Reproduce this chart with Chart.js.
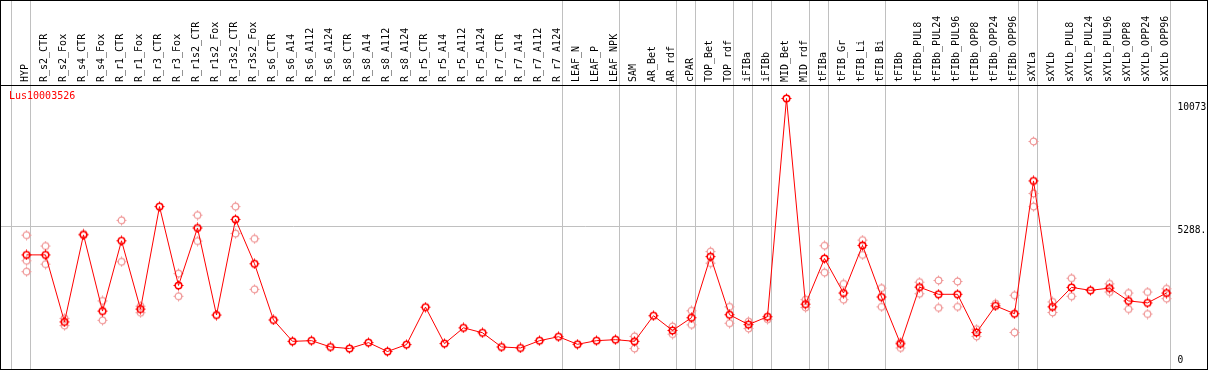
<!DOCTYPE html>
<html>
<head>
<meta charset="utf-8">
<script src="https://cdn.jsdelivr.net/npm/chart.js@4.4.0/dist/chart.umd.min.js"></script>
<style>
html,body{margin:0;padding:0;background:#fff;}
#wrap{width:1209px;height:370px;}
</style>
</head>
<body>
<div id="wrap"><canvas id="c" width="1209" height="370"></canvas></div>
<script>
const categories = ["HYP","R_s2_CTR","R_s2_Fox","R_s4_CTR","R_s4_Fox","R_r1_CTR","R_r1_Fox","R_r3_CTR","R_r3_Fox","R_r1s2_CTR","R_r1s2_Fox","R_r3s2_CTR","R_r3s2_Fox","R_s6_CTR","R_s6_A14","R_s6_A112","R_s6_A124","R_s8_CTR","R_s8_A14","R_s8_A112","R_s8_A124","R_r5_CTR","R_r5_A14","R_r5_A112","R_r5_A124","R_r7_CTR","R_r7_A14","R_r7_A112","R_r7_A124","LEAF_N","LEAF_P","LEAF_NPK","SAM","AR_Bet","AR_rdf","cPAR","TOP_Bet","TOP_rdf","iFIBa","iFIBb","MID_Bet","MID_rdf","tFIBa","tFIB_Gr","tFIB_Li","tFIB_Bi","tFIBb","tFIBb_PUL8","tFIBb_PUL24","tFIBb_PUL96","tFIBb_OPP8","tFIBb_OPP24","tFIBb_OPP96","sXYLa","sXYLb","sXYLb_PUL8","sXYLb_PUL24","sXYLb_PUL96","sXYLb_OPP8","sXYLb_OPP24","sXYLb_OPP96"];

const meanValues = [4218,4218,1709,4967,2114,4746,2188,6026,3074,5226,
1967,5547,3886,1782,982,1007,771,712,934,601,
860,2262,897,1487,1303,771,734,1007,1155,871,
1007,1044,982,1941,1388,1867,4155,1978,1609,1904,
10073,2373,4081,2790,4573,2642,890,3011,2742,2742,
1314,2310,2015,6986,2273,3000,2890,2975,2495,2421,2790];

const rep1 = [4956,4550,1842,null,2495,5510,2299,null,3517,5706,null,6026,4820,
null,null,null,null,null,null,null,null,null,null,null,null,null,null,null,null,null,null,null,
1166,null,1535,2126,4340,2273,1720,1805,null,2543,4561,3133,4772,2975,950,3196,3259,3222,1436,2395,2706,8462,2458,3344,null,3133,2790,2827,2949];

const rep2 = [3591,3871,1572,null,1768,3960,2052,null,2668,4735,null,5015,2927,
null,null,null,null,null,null,null,null,null,null,null,null,null,null,null,null,null,null,null,
712,null,1251,1598,3908,1660,1461,null,null,2248,3554,2543,4218,2273,734,2764,2236,2273,1166,null,1314,6026,2063,2668,null,2827,2188,2004,2580];

const rep3 = [3997,null,null,5000,null,null,null,null,null,null,
null,null,null,null,null,null,null,null,null,null,
null,null,null,null,null,null,null,null,null,null,
null,null,null,null,null,null,null,null,null,null,
null,null,null,null,null,null,null,null,null,null,
null,null,null,6517,null,null,null,null,null,null,null];

const geneName = "Lus10003526";
const yTickValues = [0, 5288.5, 10073];
const yTickLabels = ["0", "5288.", "10073"];
const gridValues = [5288.5];
const yAxisMin = 96;
const yAxisMax = 10577;
const separatorsAfter = [-1,0,28,31,34,35,37,38,39,41,42,45,52,53,60];

const MONO = '"DejaVu Sans Mono", "Liberation Mono", monospace';

function makeMarker(color, lw) {
  const c = document.createElement('canvas');
  c.width = 11; c.height = 11;
  const g = c.getContext('2d');
  g.strokeStyle = color;
  g.lineWidth = lw;
  g.beginPath(); g.arc(5.5, 5.5, 3.3, 0, Math.PI * 2); g.stroke();
  g.lineWidth = 1;
  g.beginPath();
  g.moveTo(5.5, 0.5); g.lineTo(5.5, 2.2);
  g.moveTo(5.5, 8.8); g.lineTo(5.5, 10.5);
  g.moveTo(0.5, 5.5); g.lineTo(2.2, 5.5);
  g.moveTo(8.8, 5.5); g.lineTo(10.5, 5.5);
  g.stroke();
  return c;
}
const redMarker = makeMarker('#ff0000', 1.6);
const pinkMarker = makeMarker('#f09a9a', 1.3);

const framePlugin = {
  id: 'frame',
  beforeDraw(chart) {
    const ctx = chart.ctx;
    ctx.save();
    ctx.fillStyle = '#fff';
    ctx.fillRect(0, 0, chart.width, chart.height);
    ctx.restore();
  },
  beforeDatasetsDraw(chart) {
    const ctx = chart.ctx, x = chart.scales.x, y = chart.scales.y;
    ctx.save();
    ctx.strokeStyle = '#c0c0c0';
    ctx.lineWidth = 1;
    let lastX = 0;
    separatorsAfter.forEach(i => {
      const px = Math.floor(x.getPixelForValue(i) + 3.5) + 0.5;
      lastX = px;
      ctx.beginPath(); ctx.moveTo(px, 0); ctx.lineTo(px, chart.height); ctx.stroke();
    });
    gridValues.forEach(v => {
      const py = Math.floor(y.getPixelForValue(v)) + 0.5;
      ctx.beginPath(); ctx.moveTo(1, py); ctx.lineTo(lastX, py); ctx.stroke();
    });
    ctx.restore();
  },
  afterDraw(chart) {
    const ctx = chart.ctx, y = chart.scales.y, area = chart.chartArea;
    ctx.save();
    ctx.strokeStyle = '#000';
    ctx.lineWidth = 1;
    ctx.strokeRect(0.5, 0.5, 1207, 369);
    ctx.beginPath(); ctx.moveTo(0, area.top + 0.5); ctx.lineTo(1208, area.top + 0.5); ctx.stroke();
    ctx.font = '10px ' + MONO;
    ctx.fillStyle = '#ff0000';
    ctx.textAlign = 'left';
    ctx.textBaseline = 'middle';
    ctx.fillText(geneName, 9, area.top + 11);
    ctx.fillStyle = '#000';
    ctx.font = '9.6px ' + MONO;
    yTickValues.forEach((v, k) => {
      let py = y.getPixelForValue(v) + 4;
      py = Math.min(Math.max(py, area.top + 22), area.bottom - 5);
      ctx.fillText(yTickLabels[k], area.right + 1.5, py);
    });
    ctx.restore();
  }
};

new Chart(document.getElementById('c'), {
  type: 'line',
  data: {
    labels: categories,
    datasets: [
      {data: meanValues, borderColor: '#ff0000', borderWidth: 1, pointStyle: redMarker, pointRadius: 4, fill: false, tension: 0, order: 1},
      {data: rep1, showLine: false, pointStyle: pinkMarker, pointRadius: 4, order: 2},
      {data: rep2, showLine: false, pointStyle: pinkMarker, pointRadius: 4, order: 3},
      {data: rep3, showLine: false, pointStyle: pinkMarker, pointRadius: 4, order: 4}
    ]
  },
  options: {
    responsive: false,
    devicePixelRatio: 1,
    animation: false,
    events: [],
    layout: {padding: {left: 17, right: 33, top: 0, bottom: 1}},
    plugins: {legend: {display: false}, tooltip: {enabled: false}, title: {display: false}},
    scales: {
      x: {
        type: 'category',
        position: 'top',
        offset: true,
        grid: {display: false, drawTicks: false, tickLength: 0},
        border: {display: false},
        afterFit: s => { s.height = 85; },
        ticks: {autoSkip: false, minRotation: 90, maxRotation: 90, padding: 3, labelOffset: 11, color: '#000', font: {family: MONO, size: 10}}
      },
      y: {
        display: false,
        min: yAxisMin,
        max: yAxisMax
      }
    }
  },
  plugins: [framePlugin]
});
</script>
</body>
</html>
